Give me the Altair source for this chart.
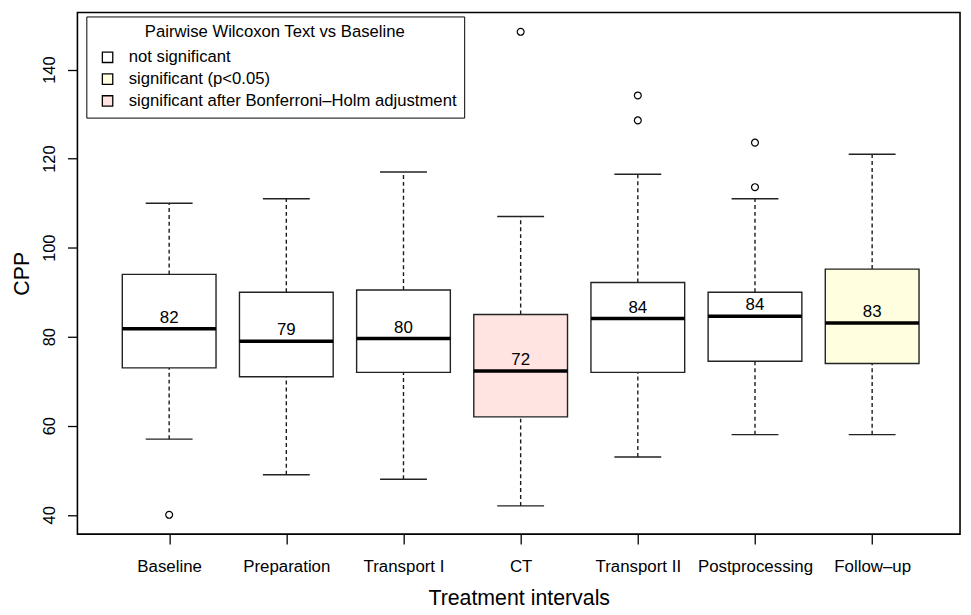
import json
import altair as alt
import pandas as pd

categories = ["Baseline", "Preparation", "Transport I", "CT", "Transport II", "Postprocessing", "Follow\u2013up"]
whisker_low = [57, 49, 48, 42, 53, 58, 58]
quartile_1 = [73, 71, 72, 62, 72, 74.5, 74]
medians = [81.8, 79, 79.6, 72.3, 84.1, 84.6, 83.1]
quartile_3 = [94, 90, 90.5, 85, 92.2, 90, 95.2]
whisker_high = [110, 111, 117, 107, 116.5, 111, 121]
median_labels = ["82", "79", "80", "72", "84", "84", "83"]
significance = [
    "not significant", "not significant", "not significant",
    "significant after Bonferroni\u2013Holm adjustment",
    "not significant", "not significant", "significant (p<0.05)",
]
outlier_groups = ["Baseline", "CT", "Transport II", "Transport II", "Postprocessing", "Postprocessing"]
outlier_values = [40, 148.5, 128.6, 134.2, 113.6, 123.6]

sig_levels = ["not significant", "significant (p<0.05)", "significant after Bonferroni\u2013Holm adjustment"]
sig_colors = ["#FFFFFF", "#FFFFE0", "#FFE4E1"]

FONT = "Liberation Sans"
HALF_BOX = 0.4
HALF_CAP = 0.2

idx = list(range(1, len(categories) + 1))
box = pd.DataFrame({
    "cat": categories, "idx": idx, "lo": whisker_low, "q1": quartile_1,
    "med": medians, "q3": quartile_3, "hi": whisker_high,
    "label": median_labels, "sig": significance,
})
box["left"] = box["idx"] - HALF_BOX
box["right"] = box["idx"] + HALF_BOX
box["cap_l"] = box["idx"] - HALF_CAP
box["cap_r"] = box["idx"] + HALF_CAP

out = pd.DataFrame({"cat": outlier_groups, "value": outlier_values})
out["idx"] = out["cat"].map({c: i for c, i in zip(categories, idx)})

label_expr = json.dumps(categories, ensure_ascii=False) + "[datum.value - 1]"

xscale = alt.Scale(domain=[0.217, 7.75], nice=False, zero=False)
yscale = alt.Scale(domain=[35.66, 152.84], nice=False, zero=False)
xaxis = alt.Axis(values=idx, labelExpr=label_expr, title="Treatment intervals",
                 grid=False, domain=False, tickSize=10, tickWidth=1.3, tickColor="black",
                 labelFont=FONT, labelFontSize=17, labelColor="black", labelPadding=15,
                 titleFont=FONT, titleFontSize=21.5, titleFontWeight="normal",
                 titleColor="black", titlePadding=13)
yaxis = alt.Axis(values=[40, 60, 80, 100, 120, 140], title="CPP", grid=False, domain=False,
                 tickSize=10, tickWidth=1.3, tickColor="black",
                 labelFont=FONT, labelFontSize=16.5, labelColor="black",
                 labelAngle=270, labelAlign="center", labelBaseline="alphabetic", labelPadding=13,
                 titleFont=FONT, titleFontSize=21.5, titleFontWeight="normal",
                 titleColor="black", titlePadding=8)


def X(field):
    return alt.X(f"{field}:Q", scale=xscale, axis=xaxis)


def Y(field):
    return alt.Y(f"{field}:Q", scale=yscale, axis=yaxis)


base = alt.Chart(box)

whisk_up = base.mark_rule(color="#1a1a1a", strokeWidth=1.4, strokeDash=[4, 3]).encode(
    x=X("idx"), y=Y("q3"), y2="hi")
whisk_dn = base.mark_rule(color="#1a1a1a", strokeWidth=1.4, strokeDash=[4, 3]).encode(
    x=X("idx"), y=Y("lo"), y2="q1")
cap_hi = base.mark_rule(color="#222222", strokeWidth=1.4).encode(
    x=X("cap_l"), x2="cap_r", y=Y("hi"))
cap_lo = base.mark_rule(color="#222222", strokeWidth=1.4).encode(
    x=X("cap_l"), x2="cap_r", y=Y("lo"))
rects = base.mark_rect(stroke="#222222", strokeWidth=1.4).encode(
    x=X("left"), x2="right", y=Y("q1"), y2="q3",
    fill=alt.Fill("sig:N", scale=alt.Scale(domain=sig_levels, range=sig_colors),
                  legend=alt.Legend(
                      title="Pairwise Wilcoxon Text vs Baseline", orient="none",
                      legendX=9, legendY=4, direction="vertical",
                      strokeColor="black", fillColor="white", padding=8,
                      titleAnchor="middle", titleFont=FONT, titleFontSize=16.8,
                      titleFontWeight="normal", titleColor="black", titlePadding=8,
                      titleLimit=600,
                      labelFont=FONT, labelFontSize=16.8, labelColor="black",
                      labelOffset=13, labelLimit=600, symbolType="square", symbolSize=110,
                      symbolStrokeColor="black", symbolStrokeWidth=1.3, symbolOffset=5,
                      rowPadding=4)))
med_line = base.mark_rule(color="black", strokeWidth=3.5).encode(
    x=X("left"), x2="right", y=Y("med"))
med_text = base.mark_text(font=FONT, fontSize=17, color="black", baseline="alphabetic",
                          align="center", dy=-6).encode(
    x=X("idx"), y=Y("med"), text="label:N")
points = alt.Chart(out).mark_point(shape="circle", filled=False, size=48, color="black",
                                   strokeWidth=1.2, opacity=1).encode(
    x=X("idx"), y=Y("value"))

chart = alt.layer(whisk_up, whisk_dn, cap_hi, cap_lo, rects, med_line, med_text, points).properties(
    width=890, height=526, autosize="none",
    padding={"left": 70, "top": 2, "right": 3, "bottom": 76},
    background="white",
).configure_view(stroke="black", strokeWidth=1.6)

chart.save("out.html", embed_options={"renderer": "svg", "actions": False})
